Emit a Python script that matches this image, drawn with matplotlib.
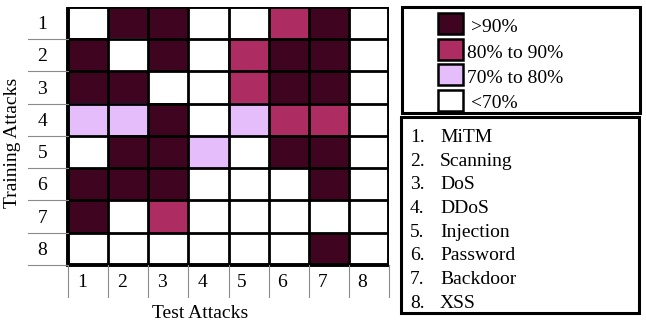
import numpy as np
import matplotlib
matplotlib.use('Agg')
from matplotlib import pyplot as plt
from matplotlib.colors import ListedColormap
from matplotlib.patches import Rectangle

plt.rcParams['font.family'] = ['Liberation Serif', 'DejaVu Serif']

# accuracy class per (training attack, test attack): 0 <70%, 1 70-80%, 2 80-90%, 3 >90%
levels = [
    [0, 3, 3, 0, 0, 2, 3, 0],
    [3, 0, 3, 0, 2, 3, 3, 0],
    [3, 3, 0, 0, 2, 3, 3, 0],
    [1, 1, 3, 0, 1, 2, 2, 0],
    [0, 3, 3, 1, 0, 3, 3, 0],
    [3, 3, 3, 0, 0, 0, 3, 0],
    [3, 0, 2, 0, 0, 0, 0, 0],
    [0, 0, 0, 0, 0, 0, 3, 0],
]
row_labels = ['1', '2', '3', '4', '5', '6', '7', '8']
col_labels = ['1', '2', '3', '4', '5', '6', '7', '8']
level_names = ['>90%', '80% to 90%', '70% to 80%', '<70%']
level_colors = ['#ffffff', '#e4bdfa', '#ad2d62', '#3f0420']
attacks = ['MiTM', 'Scanning', 'DoS', 'DDoS', 'Injection', 'Password', 'Backdoor', 'XSS']

W, H = 646, 328
fig = plt.figure(figsize=(W / 100, H / 100), dpi=100)

# table axes: x from -1 (label column) to 8, y from 0 to 9 (header row at bottom)
x0, x1, y0, y1 = 27.9, 389.0, 6.7, 297.3
ax = fig.add_axes([x0 / W, 1 - y1 / H, (x1 - x0) / W, (y1 - y0) / H])
ax.set_xlim(-1, 8)
ax.set_ylim(9, 0)
ax.axis('off')

data = np.array(levels)
cmap = ListedColormap(level_colors)
ax.imshow(data, cmap=cmap, vmin=-0.5, vmax=3.5, extent=(0, 8, 8, 0),
          interpolation='nearest', aspect='auto')

n = len(row_labels)
for k in range(1, n):
    ax.plot([0, 8], [k, k], color='black', lw=2.0, solid_capstyle='butt')
    ax.plot([k, k], [0, 8], color='black', lw=2.0, solid_capstyle='butt')
ax.add_patch(Rectangle((0, 0), 8, 8, fill=False, ec='black', lw=2.8))

# grey label lines
for k in range(1, n + 1):
    ax.plot([-1, 0], [k, k], color='#8a8a8a', lw=0.8, clip_on=False)
for k in range(0, n + 1):
    ax.plot([k, k], [8, 9], color='#8a8a8a', lw=0.8, clip_on=False)

for i, lab in enumerate(row_labels):
    ax.text(-0.76, i + 0.55, lab, ha='left', va='center', fontsize=14)
for j, lab in enumerate(col_labels):
    ax.text(j + 0.22, 8.55, lab, ha='left', va='center', fontsize=14)

# overlay axes in pixel coordinates
lay = fig.add_axes([0, 0, 1, 1])
lay.set_xlim(0, W)
lay.set_ylim(H, 0)
lay.axis('off')

lay.text(13, 143, 'Training Attacks', rotation=90, ha='center', va='center', fontsize=14)
lay.text(200, 318, 'Test Attacks', ha='center', va='baseline', fontsize=14)

# colour legend box
lay.add_patch(Rectangle((402, 7), 238, 106, fill=False, ec='black', lw=2.2))
legend_fill = [level_colors[3], level_colors[2], level_colors[1], level_colors[0]]
text_x = [471, 467, 467, 471]
for k, name in enumerate(level_names):
    top = 13 + 25.5 * k
    lay.add_patch(Rectangle((438, top), 25, 21, fc=legend_fill[k], ec='black', lw=1.8))
    lay.text(text_x[k], top + 19, name, ha='left', va='baseline', fontsize=14)

# attack list box
lay.add_patch(Rectangle((401, 117), 238, 196, fill=False, ec='black', lw=2.2))
for k, name in enumerate(attacks):
    base = 142 + 23.7 * k
    lay.text(410, base, f'{k + 1}.', ha='left', va='baseline', fontsize=14)
    lay.text(440, base, name, ha='left', va='baseline', fontsize=14)

fig.savefig('out.png', dpi=100)
plt.close(fig)
